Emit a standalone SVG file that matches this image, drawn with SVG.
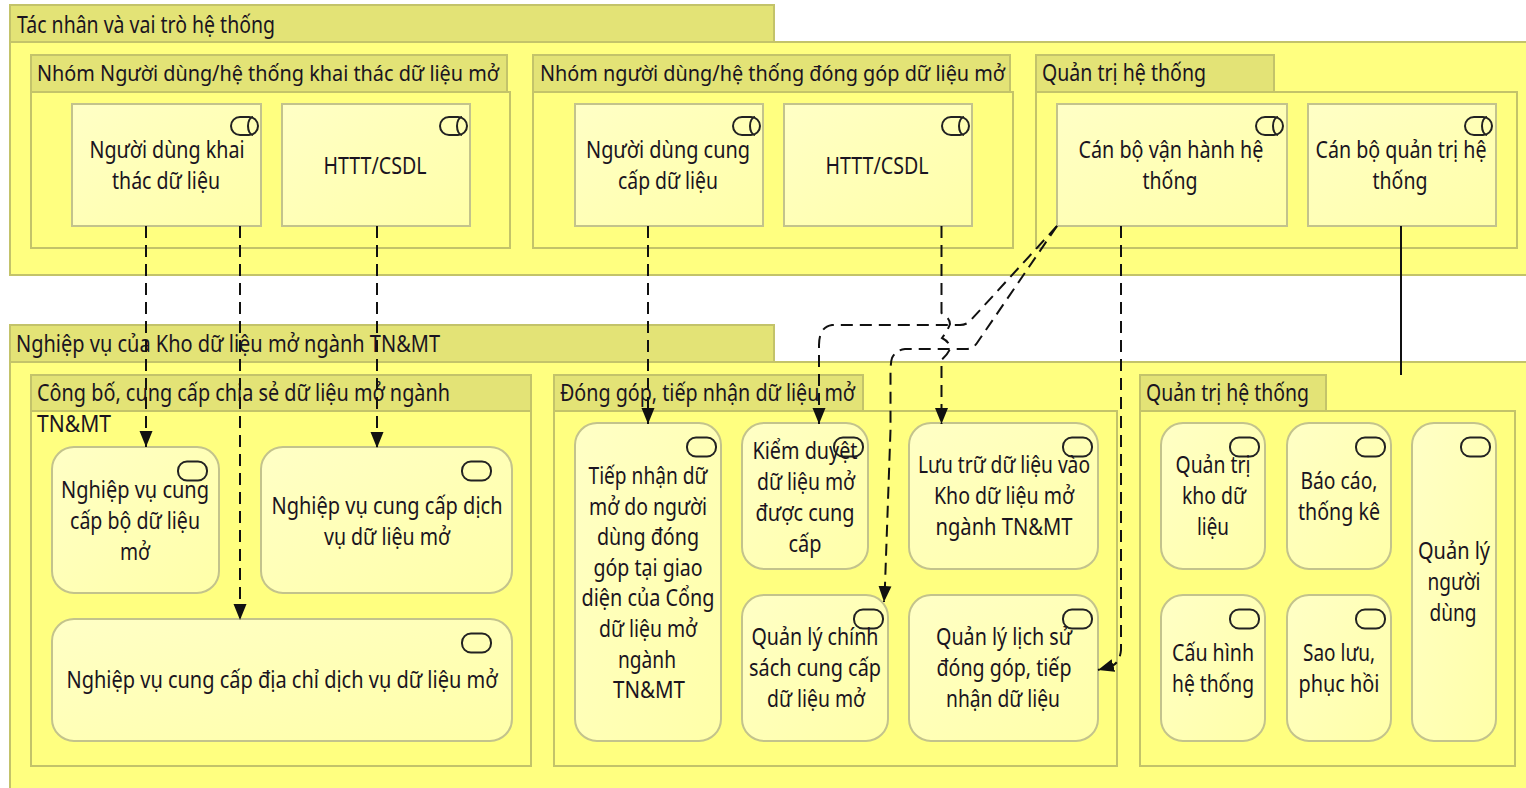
<svg xmlns="http://www.w3.org/2000/svg" width="1526" height="788" viewBox="0 0 1526 788">
<style>
text{font-family:"Noto Sans","Open Sans","Liberation Sans",sans-serif;font-size:23px;fill:#1a1420;}
text.sm{font-size:21px}
.m{text-anchor:middle}
.body{fill:#ffff80;stroke:#c3c36a;stroke-width:2}
.tab{fill:#e3e376;stroke:#c3c36a;stroke-width:2}
.n{fill:url(#nf);stroke:#c3c38c;stroke-width:2}
.i{fill:none;stroke:#222;stroke-width:2}
.c{fill:none;stroke:#111;stroke-width:2;stroke-dasharray:12 7}
.s{fill:none;stroke:#111;stroke-width:2}
</style>
<defs>
<linearGradient id="nf" x1="0" y1="0" x2="1" y2="1"><stop offset="0" stop-color="#ffffc6"/><stop offset="1" stop-color="#ffffa8"/></linearGradient>
<marker id="a" markerUnits="userSpaceOnUse" markerWidth="18" markerHeight="15" refX="16" refY="7" orient="auto"><path d="M0 0.500L16 7L0 13.500z" fill="#111"/></marker>
<g id="role"><rect x="-14" y="-9" width="27" height="18" rx="9" ry="9" class="i"/><path d="M8 -9A5 9 0 0 0 8 9" class="i"/></g>
<rect id="proc" x="-14" y="-9.500" width="29" height="19" rx="9" class="i"/>
</defs>
<rect width="1526" height="788" fill="#fff"/>
<g id="g-actors">
<rect class="body" x="10" y="42" width="1530" height="233"/>
<rect class="tab" x="10" y="5" width="764" height="37"/>
<text x="17" y="33" textLength="258" lengthAdjust="spacingAndGlyphs">Tác nhân và vai trò hệ thống</text>
</g>
<g id="g-exploit">
<rect class="body" x="31" y="92" width="479" height="156"/>
<rect class="tab" x="31" y="55" width="476" height="37"/>
<text class="sm" x="37" y="81" textLength="462" lengthAdjust="spacingAndGlyphs">Nhóm Người dùng/hệ thống khai thác dữ liệu mở</text>
</g>
<g id="g-contrib">
<rect class="body" x="533" y="92" width="480" height="156"/>
<rect class="tab" x="533" y="55" width="477" height="37"/>
<text class="sm" x="540" y="81" textLength="465" lengthAdjust="spacingAndGlyphs">Nhóm người dùng/hệ thống đóng góp dữ liệu mở</text>
</g>
<g id="g-admin">
<rect class="body" x="1036" y="92" width="481" height="156"/>
<rect class="tab" x="1036" y="55" width="238" height="37"/>
<text x="1042" y="81" textLength="164" lengthAdjust="spacingAndGlyphs">Quản trị hệ thống</text>
</g>
<g id="n1"><rect class="n" x="72" y="104" width="189" height="122"/><use href="#role" x="245" y="126"/><text class="m" x="167" y="158" textLength="155" lengthAdjust="spacingAndGlyphs">Người dùng khai</text><text class="m" x="166" y="189" textLength="108" lengthAdjust="spacingAndGlyphs">thác dữ liệu</text></g>
<g id="n2"><rect class="n" x="282" y="104" width="188" height="122"/><use href="#role" x="454" y="126"/><text class="m" x="375" y="174" textLength="103" lengthAdjust="spacingAndGlyphs">HTTT/CSDL</text></g>
<g id="n3"><rect class="n" x="575" y="104" width="188" height="122"/><use href="#role" x="747" y="126"/><text class="m" x="668" y="158" textLength="164" lengthAdjust="spacingAndGlyphs">Người dùng cung</text><text class="m" x="668" y="189" textLength="100" lengthAdjust="spacingAndGlyphs">cấp dữ liệu</text></g>
<g id="n4"><rect class="n" x="784" y="104" width="188" height="122"/><use href="#role" x="956" y="126"/><text class="m" x="877" y="174" textLength="103" lengthAdjust="spacingAndGlyphs">HTTT/CSDL</text></g>
<g id="n5"><rect class="n" x="1057" y="104" width="230" height="122"/><use href="#role" x="1270" y="126"/><text class="m" x="1171" y="158" textLength="185" lengthAdjust="spacingAndGlyphs">Cán bộ vận hành hệ</text><text class="m" x="1170" y="189" textLength="55" lengthAdjust="spacingAndGlyphs">thống</text></g>
<g id="n6"><rect class="n" x="1308" y="104" width="188" height="122"/><use href="#role" x="1479" y="126"/><text class="m" x="1401" y="158" textLength="171" lengthAdjust="spacingAndGlyphs">Cán bộ quản trị hệ</text><text class="m" x="1400" y="189" textLength="55" lengthAdjust="spacingAndGlyphs">thống</text></g>
<g id="g-business">
<rect class="body" x="10" y="362" width="1530" height="430"/>
<rect class="tab" x="10" y="325" width="764" height="37"/>
<text x="16" y="352" textLength="424" lengthAdjust="spacingAndGlyphs">Nghiệp vụ của Kho dữ liệu mở ngành TN&amp;MT</text>
</g>
<g id="g-publish">
<rect class="body" x="31" y="411" width="500" height="355"/>
<rect class="tab" x="31" y="375" width="500" height="36"/>
<text x="37" y="401" textLength="413" lengthAdjust="spacingAndGlyphs">Công bố, cung cấp chia sẻ dữ liệu mở ngành</text>
<text x="37" y="432" textLength="74" lengthAdjust="spacingAndGlyphs">TN&amp;MT</text>
</g>
<g id="g-receive">
<rect class="body" x="554" y="411" width="563" height="355"/>
<rect class="tab" x="554" y="375" width="309" height="36"/>
<text x="560" y="401" textLength="295" lengthAdjust="spacingAndGlyphs">Đóng góp, tiếp nhận dữ liệu mở</text>
</g>
<g id="g-manage">
<rect class="body" x="1140" y="411" width="375" height="355"/>
<rect class="tab" x="1140" y="375" width="186" height="36"/>
<text x="1146" y="401" textLength="163" lengthAdjust="spacingAndGlyphs">Quản trị hệ thống</text>
</g>
<g id="p1"><rect class="n" x="52" y="447" width="167" height="146" rx="22"/><use href="#proc" x="192" y="471"/><text class="m" x="135" y="498" textLength="148" lengthAdjust="spacingAndGlyphs">Nghiệp vụ cung</text><text class="m" x="135" y="529" textLength="130" lengthAdjust="spacingAndGlyphs">cấp bộ dữ liệu</text><text class="m" x="135" y="560" textLength="30" lengthAdjust="spacingAndGlyphs">mở</text></g>
<g id="p2"><rect class="n" x="261" y="447" width="251" height="146" rx="22"/><use href="#proc" x="476" y="471"/><text class="m" x="387" y="514" textLength="231" lengthAdjust="spacingAndGlyphs">Nghiệp vụ cung cấp dịch</text><text class="m" x="387" y="545" textLength="126" lengthAdjust="spacingAndGlyphs">vụ dữ liệu mở</text></g>
<g id="p3"><rect class="n" x="52" y="619" width="460" height="122" rx="22"/><use href="#proc" x="476" y="643"/><text class="m" x="282" y="688" textLength="431" lengthAdjust="spacingAndGlyphs">Nghiệp vụ cung cấp địa chỉ dịch vụ dữ liệu mở</text></g>
<g id="p4"><rect class="n" x="575" y="423" width="146" height="318" rx="22"/><use href="#proc" x="701" y="447"/><text class="m" x="648" y="484" textLength="119" lengthAdjust="spacingAndGlyphs">Tiếp nhận dữ</text><text class="m" x="648" y="515" textLength="118" lengthAdjust="spacingAndGlyphs">mở do người</text><text class="m" x="648" y="545" textLength="102" lengthAdjust="spacingAndGlyphs">dùng đóng</text><text class="m" x="648" y="576" textLength="109" lengthAdjust="spacingAndGlyphs">góp tại giao</text><text class="m" x="648" y="606" textLength="133" lengthAdjust="spacingAndGlyphs">diện của Cổng</text><text class="m" x="648" y="637" textLength="98" lengthAdjust="spacingAndGlyphs">dữ liệu mở</text><text class="m" x="647" y="668" textLength="58" lengthAdjust="spacingAndGlyphs">ngành</text><text class="m" x="649" y="698" textLength="72" lengthAdjust="spacingAndGlyphs">TN&amp;MT</text></g>
<g id="p5"><rect class="n" x="742" y="423" width="126" height="146" rx="22"/><use href="#proc" x="848" y="447"/><text class="m" x="805" y="459" textLength="105" lengthAdjust="spacingAndGlyphs">Kiểm duyệt</text><text class="m" x="806" y="490" textLength="98" lengthAdjust="spacingAndGlyphs">dữ liệu mở</text><text class="m" x="805" y="521" textLength="99" lengthAdjust="spacingAndGlyphs">được cung</text><text class="m" x="805" y="552" textLength="33" lengthAdjust="spacingAndGlyphs">cấp</text></g>
<g id="p6"><rect class="n" x="909" y="423" width="189" height="146" rx="22"/><use href="#proc" x="1077" y="447"/><text class="m" x="1004" y="473" textLength="172" lengthAdjust="spacingAndGlyphs">Lưu trữ dữ liệu vào</text><text class="m" x="1004" y="504" textLength="140" lengthAdjust="spacingAndGlyphs">Kho dữ liệu mở</text><text class="m" x="1004" y="535" textLength="137" lengthAdjust="spacingAndGlyphs">ngành TN&amp;MT</text></g>
<g id="p7"><rect class="n" x="742" y="595" width="146" height="146" rx="22"/><use href="#proc" x="868" y="619"/><text class="m" x="815" y="645" textLength="127" lengthAdjust="spacingAndGlyphs">Quản lý chính</text><text class="m" x="815" y="676" textLength="132" lengthAdjust="spacingAndGlyphs">sách cung cấp</text><text class="m" x="816" y="707" textLength="98" lengthAdjust="spacingAndGlyphs">dữ liệu mở</text></g>
<g id="p8"><rect class="n" x="909" y="595" width="189" height="146" rx="22"/><use href="#proc" x="1077" y="619"/><text class="m" x="1004" y="645" textLength="136" lengthAdjust="spacingAndGlyphs">Quản lý lịch sử</text><text class="m" x="1004" y="676" textLength="135" lengthAdjust="spacingAndGlyphs">đóng góp, tiếp</text><text class="m" x="1003" y="707" textLength="114" lengthAdjust="spacingAndGlyphs">nhận dữ liệu</text></g>
<g id="p9"><rect class="n" x="1161" y="423" width="104" height="146" rx="22"/><use href="#proc" x="1244" y="447"/><text class="m" x="1213" y="473" textLength="75" lengthAdjust="spacingAndGlyphs">Quản trị</text><text class="m" x="1214" y="504" textLength="64" lengthAdjust="spacingAndGlyphs">kho dữ</text><text class="m" x="1213" y="535" textLength="32" lengthAdjust="spacingAndGlyphs">liệu</text></g>
<g id="p10"><rect class="n" x="1287" y="423" width="104" height="146" rx="22"/><use href="#proc" x="1370" y="447"/><text class="m" x="1339" y="489" textLength="77" lengthAdjust="spacingAndGlyphs">Báo cáo,</text><text class="m" x="1339" y="520" textLength="82" lengthAdjust="spacingAndGlyphs">thống kê</text></g>
<g id="p11"><rect class="n" x="1412" y="423" width="84" height="318" rx="22"/><use href="#proc" x="1475" y="447"/><text class="m" x="1454" y="559" textLength="72" lengthAdjust="spacingAndGlyphs">Quản lý</text><text class="m" x="1454" y="590" textLength="53" lengthAdjust="spacingAndGlyphs">người</text><text class="m" x="1453" y="621" textLength="47" lengthAdjust="spacingAndGlyphs">dùng</text></g>
<g id="p12"><rect class="n" x="1161" y="595" width="104" height="146" rx="22"/><use href="#proc" x="1244" y="619"/><text class="m" x="1213" y="661" textLength="82" lengthAdjust="spacingAndGlyphs">Cấu hình</text><text class="m" x="1213" y="692" textLength="82" lengthAdjust="spacingAndGlyphs">hệ thống</text></g>
<g id="p13"><rect class="n" x="1287" y="595" width="104" height="146" rx="22"/><use href="#proc" x="1370" y="619"/><text class="m" x="1339" y="661" textLength="72" lengthAdjust="spacingAndGlyphs">Sao lưu,</text><text class="m" x="1339" y="692" textLength="81" lengthAdjust="spacingAndGlyphs">phục hồi</text></g>
<g id="connectors">
<path class="c" marker-end="url(#a)" d="M146 226V447"/>
<path class="c" marker-end="url(#a)" d="M240 226V620"/>
<path class="c" marker-end="url(#a)" d="M377 226V448"/>
<path class="c" marker-end="url(#a)" d="M648 226V424"/>
<path class="c" marker-end="url(#a)" d="M941.500 226V313Q950 318 950 324Q948 330 942 338Q950 342 950 349Q948 354 941.500 360V424"/>
<path class="c" marker-end="url(#a)" d="M1121 226V650Q1120 662 1112 666L1098 670"/>
<path class="c" marker-end="url(#a)" d="M1057 226L970 321Q966 325 960 325H832Q819 327 819 345V424"/>
<path class="c" marker-end="url(#a)" d="M1057 226L977 343Q973 349 966 349H905Q896 350 892 358Q890.500 362 890.500 375V430L885 585L884 602"/>
<path class="s" d="M1401 226V375"/>
</g>
</svg>
